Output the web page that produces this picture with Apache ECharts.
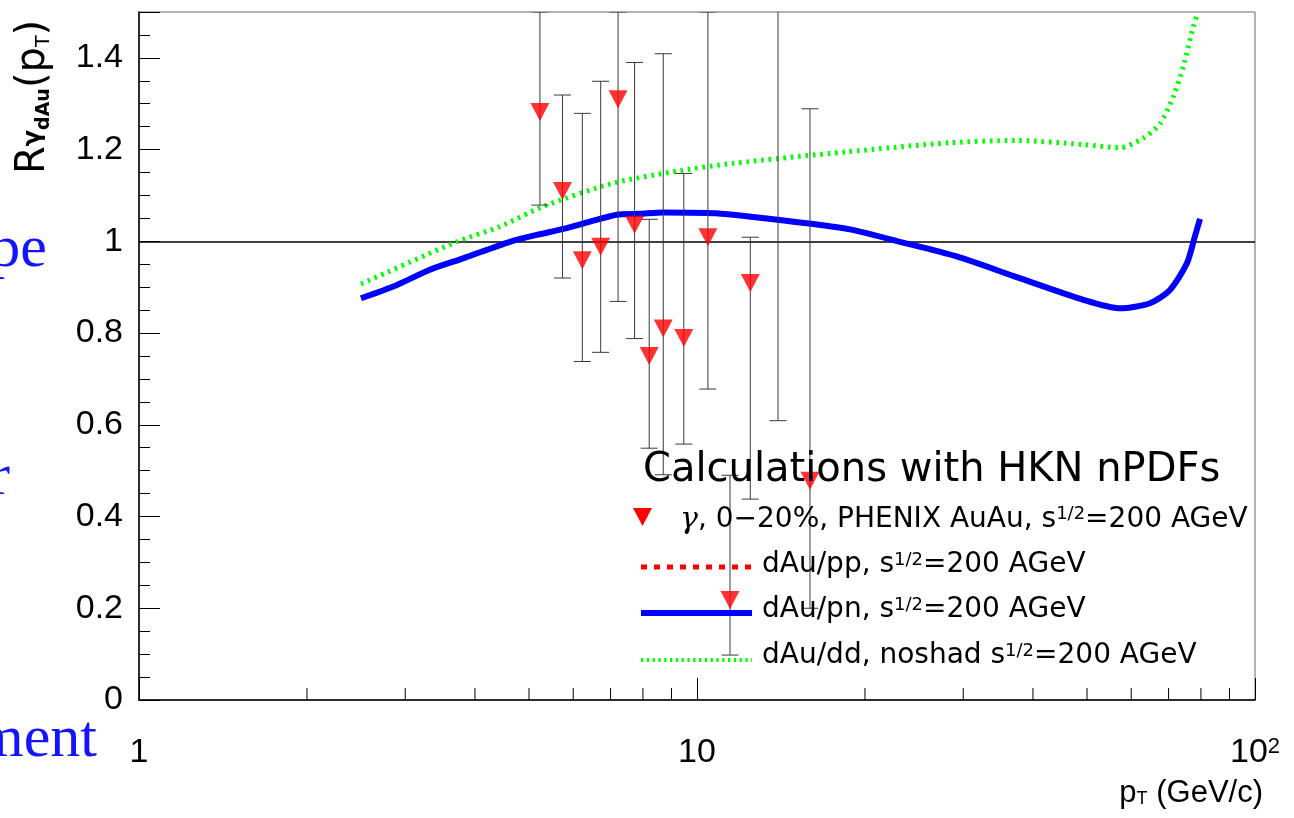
<!DOCTYPE html>
<html><head><meta charset="utf-8">
<script src="https://cdn.jsdelivr.net/npm/echarts@6/dist/echarts.min.js"></script>
<style>html,body{margin:0;padding:0;background:#fff}#c{width:1294px;height:818px}</style>
</head><body><div id="c"></div>
<script>
// ---- data ----
const ptValues  = [5.23, 5.74, 6.23, 6.72, 7.22, 7.73, 8.21, 8.70, 9.47, 10.46, 11.46, 12.46, 13.97, 15.94];
const raaValues = [1.282, 1.110, 0.959, 0.988, 1.310, 1.036, 0.750, 0.810, 0.789, 1.009, 0.218, 0.909, 1.62, 0.478];
const errLow    = [1.079, 0.920, 0.738, 0.758, 0.869, 0.788, 0.549, 0.491, 0.558, 0.678, 0.098, 0.438, 0.609, 0.200];
const errHigh   = [1.55, 1.319, 1.279, 1.349, 1.55, 1.390, 1.048, 1.409, 1.148, 1.55, 0.490, 1.009, 2.6, 1.289];

const pnX = [2.50, 2.90, 3.32, 3.81, 4.62, 5.16, 5.76, 6.43, 7.18, 7.90, 8.70, 10.8, 15.3, 18.8, 23.1, 29.2, 37.4, 49.4, 57.3, 64.8, 70.4, 75.5, 78.0, 79.7];
const pnY = [0.876, 0.905, 0.938, 0.963, 0.999, 1.014, 1.027, 1.043, 1.058, 1.060, 1.063, 1.061, 1.041, 1.026, 0.999, 0.967, 0.922, 0.872, 0.854, 0.865, 0.894, 0.952, 1.010, 1.049];

const ddX = [2.50, 3.71, 4.43, 5.30, 7.08, 9.32, 11.6, 18.5, 28.4, 37.4, 49.2, 57.3, 63.1, 67.6, 71.4, 74.4, 77.5, 78.8];
const ddY = [0.907, 0.999, 1.032, 1.076, 1.127, 1.154, 1.170, 1.195, 1.215, 1.220, 1.211, 1.204, 1.225, 1.257, 1.316, 1.381, 1.468, 1.494];

const xMinorTicks = [2, 3, 4, 5, 6, 7, 8, 9, 20, 30, 40, 50, 60, 70, 80, 90];
const xTickLabels = {1: '1', 10: '10', 100: '10{sup|2}'};
const unityLevel = 1;
const X_MIN = 1, X_MAX = 100, Y_MIN = 0, Y_MAX = 1.5, Y_STEP = 0.2;

const legendTitle = 'Calculations with HKN nPDFs';
const legendTexts = [
  '{it|γ}, 0−20%, PHENIX AuAu, s{sup|1/2}=200 AGeV',
  'dAu/pp, s{sup|1/2}=200 AGeV',
  'dAu/pn, s{sup|1/2}=200 AGeV',
  'dAu/dd, noshad s{sup|1/2}=200 AGeV'
];

// ---- build ----
const pts = ptValues.map((x, i) => [x, raaValues[i], errLow[i], errHigh[i]]);
const pnData = pnX.map((x, i) => [x, pnY[i]]);
const ddData = ddX.map((x, i) => [x, ddY[i]]);
const FONT = "'DejaVu Sans', sans-serif";
const NUMFONT = "'Liberation Sans', Arial, sans-serif";
const SERIF = "'Liberation Serif', serif";
const supStyle = {fontSize: 18, verticalAlign: 'top', fontFamily: FONT, fill: '#000'};

const chart = echarts.init(document.getElementById('c'), null, {renderer: 'canvas'});
chart.setOption({
  animation: false,
  backgroundColor: '#fff',
  grid: {left: 139, top: 12, width: 1116, height: 688, show: true, borderColor: '#666', borderWidth: 1, containLabel: false},
  xAxis: {
    type: 'log', logBase: 10, min: X_MIN, max: X_MAX,
    axisLine: {show: true, onZero: false, lineStyle: {color: '#000', width: 1.5}},
    axisTick: {show: true, inside: true, length: 22, lineStyle: {color: '#000', width: 1}},
    minorTick: {show: false},
    splitLine: {show: false},
    axisLabel: {
      margin: 36, fontSize: 34, fontFamily: NUMFONT, color: '#000',
      formatter: v => xTickLabels[Math.round(v)] || '',
      rich: {sup: {fontSize: 22, verticalAlign: 'top', fontFamily: NUMFONT, color: '#000'}}
    }
  },
  yAxis: {
    type: 'value', min: Y_MIN, max: Y_MAX, interval: Y_STEP,
    axisLine: {show: true, onZero: false, lineStyle: {color: '#000', width: 1.5}},
    axisTick: {show: true, inside: true, length: 21, lineStyle: {color: '#000', width: 1}},
    minorTick: {show: true, splitNumber: 4, length: 11, lineStyle: {color: '#000', width: 1}},
    splitLine: {show: false},
    axisLabel: {margin: 16, fontSize: 34, fontFamily: NUMFONT, color: '#000', showMaxLabel: false}
  },
  series: [
    {
      type: 'custom', name: 'xminor', silent: true, z: 3,
      data: xMinorTicks.map(v => [v, Y_MIN]),
      renderItem: (params, api) => {
        const p = api.coord([api.value(0), Y_MIN]);
        return {type: 'line', shape: {x1: p[0], y1: p[1], x2: p[0], y2: p[1] - 12}, style: {stroke: '#000', lineWidth: 1}};
      }
    },
    {
      type: 'line', name: 'dAu/pp', data: pnData, smooth: 0.25, showSymbol: false, z: 4,
      lineStyle: {color: '#ff0000', width: 5, type: [6, 7]}, clip: true
    },
    {
      type: 'line', name: 'dAu/pn', data: pnData, smooth: 0.25, showSymbol: false, z: 5,
      lineStyle: {color: '#0000ff', width: 6}, clip: true,
      markLine: {silent: true, symbol: 'none', label: {show: false}, lineStyle: {color: '#000', width: 1.5, type: 'solid'}, data: [{yAxis: unityLevel}]}
    },
    {
      type: 'line', name: 'dAu/dd', data: ddData, smooth: 0.25, showSymbol: false, z: 5,
      lineStyle: {color: '#00ff00', width: 5, type: [2.6, 4.8]}, clip: true
    },
    {
      type: 'custom', name: 'errors', silent: true, z: 6, clip: true,
      data: pts,
      renderItem: (params, api) => {
        const x = api.value(0), y = api.value(1), lo = api.value(2), hi = api.value(3);
        const top = api.coord([x, Math.min(hi, Y_MAX)]);
        const bot = api.coord([x, Math.max(lo, Y_MIN)]);
        const c = 8.5;
        const st = {stroke: '#3a3a3a', lineWidth: 1};
        const ch = [
          {type: 'line', shape: {x1: top[0], y1: top[1], x2: bot[0], y2: bot[1]}, style: st},
          {type: 'line', shape: {x1: bot[0] - c, y1: bot[1], x2: bot[0] + c, y2: bot[1]}, style: st}
        ];
        if (y <= Y_MAX) ch.push({type: 'line', shape: {x1: top[0] - c, y1: top[1], x2: top[0] + c, y2: top[1]}, style: st});
        return {type: 'group', children: ch};
      }
    },
    {
      type: 'scatter', name: 'PHENIX', data: pts.map(p => [p[0], p[1]]), z: 7,
      symbol: 'triangle', symbolRotate: 180, symbolSize: [19, 18],
      itemStyle: {color: '#ff0000'}, clip: true
    }
  ],
  graphic: [
    // y axis title
    {type: 'text', x: 34, y: 97, rotation: Math.PI / 2, z: 10,
      style: {text: 'R{g|γ}{s|dAu}(p{t|T})', fontSize: 40, fontFamily: FONT, fill: '#000', align: 'center', verticalAlign: 'middle',
        rich: {g: {fontSize: 24, fontWeight: 'bold', fontFamily: FONT, fill: '#000', verticalAlign: 'middle'},
               s: {fontSize: 19, fontWeight: 'bold', fontFamily: FONT, fill: '#000', verticalAlign: 'bottom'},
               t: {fontSize: 19, fontFamily: FONT, fill: '#000', verticalAlign: 'bottom'}}}},
    // x axis title
    {type: 'text', x: 1263, y: 793, z: 10,
      style: {text: 'p{t|T} (GeV/c)', fontSize: 31, fontFamily: NUMFONT, fill: '#000', align: 'right', verticalAlign: 'middle',
        rich: {t: {fontSize: 18, fontFamily: NUMFONT, fill: '#000', verticalAlign: 'bottom'}}}},
    // legend
    {type: 'text', x: 643, y: 471, z: 10,
      style: {text: legendTitle, fontSize: 40, fontFamily: FONT, fill: '#000', align: 'left', verticalAlign: 'middle'}},
    {type: 'polygon', z: 10, shape: {points: [[633, 508], [652, 508], [642.5, 526]]}, style: {fill: '#ff0000'}},
    {type: 'text', x: 680, y: 520, z: 10,
      style: {text: legendTexts[0], fontSize: 28, fontFamily: FONT, fill: '#000', align: 'left', verticalAlign: 'middle',
        rich: {sup: supStyle, it: {fontSize: 30, fontStyle: 'italic', fontFamily: "'DejaVu Serif', serif", fill: '#000'}}}},
    {type: 'line', z: 10, shape: {x1: 641, y1: 567, x2: 752, y2: 567}, style: {stroke: '#ff0000', lineWidth: 5, lineDash: [6, 7]}},
    {type: 'text', x: 762, y: 565, z: 10,
      style: {text: legendTexts[1], fontSize: 28, fontFamily: FONT, fill: '#000', align: 'left', verticalAlign: 'middle', rich: {sup: supStyle}}},
    {type: 'line', z: 10, shape: {x1: 641, y1: 613, x2: 752, y2: 613}, style: {stroke: '#0000ff', lineWidth: 6}},
    {type: 'text', x: 762, y: 610, z: 10,
      style: {text: legendTexts[2], fontSize: 28, fontFamily: FONT, fill: '#000', align: 'left', verticalAlign: 'middle', rich: {sup: supStyle}}},
    {type: 'line', z: 10, shape: {x1: 641, y1: 660, x2: 752, y2: 660}, style: {stroke: '#00ff00', lineWidth: 4, lineDash: [2.3, 3.5]}},
    {type: 'text', x: 762, y: 656, z: 10,
      style: {text: legendTexts[3], fontSize: 28, fontFamily: FONT, fill: '#000', align: 'left', verticalAlign: 'middle', rich: {sup: supStyle}}},
    // cut-off text from neighbouring slide
    {type: 'text', x: 47, y: 250, z: 10, style: {text: 'pe', fontSize: 60, fontFamily: SERIF, fill: '#1414ff', align: 'right', verticalAlign: 'middle'}},
    {type: 'text', x: 10, y: 478, z: 10, style: {text: 'r', fontSize: 60, fontFamily: SERIF, fill: '#1414ff', align: 'right', verticalAlign: 'middle'}},
    {type: 'text', x: 97, y: 740, z: 10, style: {text: 'ment', fontSize: 60, fontFamily: SERIF, fill: '#1414ff', align: 'right', verticalAlign: 'middle'}}
  ]
});
</script></body></html>
